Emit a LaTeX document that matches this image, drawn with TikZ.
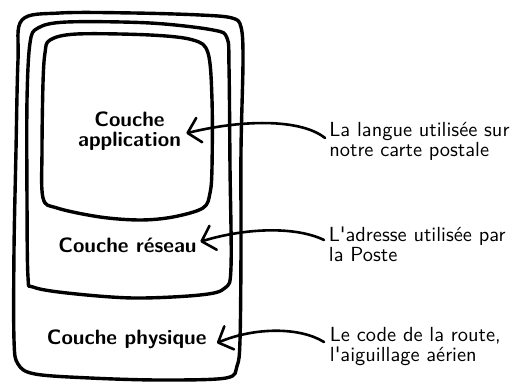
\documentclass[tikz,border=0pt]{standalone}
\usetikzlibrary{arrows.meta}
\begin{document}
\begin{tikzpicture}[x=0.5pt,y=-0.5pt,
  layerbox/.style={line width=1.7pt, line join=round},
  layerlabel/.style={inner sep=0pt, align=center, anchor=base, font=\sffamily\bfseries\fontsize{10.4}{10.3}\selectfont},
  note/.style={inner sep=0pt, align=left, anchor=base west, font=\sffamily\fontsize{10.2}{10}\selectfont},
  pointer/.style={line width=1.3pt, line cap=round, -{Straight Barb[length=6pt,width=12.5pt,round]}}]
\useasboundingbox (0,0) rectangle (512,383);
% outer contour
\draw[layerbox] plot[smooth cycle, tension=0.55] coordinates {
 (22,20) (60,13) (133,13) (200,15) (232,18) (241,27) (243,60) (241,150) (241,250) (240,340)
 (237,366) (226,378) (160,380) (90,378) (35,374) (18,364) (14,340) (14,250) (16,150) (18,60)};
% middle contour
\draw[layerbox] plot[smooth cycle, tension=0.55] coordinates {
 (38,28) (67,22) (150,23) (213,30) (227,38) (229,67) (230,167) (231,267) (225,288)
 (200,295) (133,298) (67,293) (33,287) (28,277) (27,200) (27,100) (30,43)};
% inner contour
\draw[layerbox] plot[smooth cycle, tension=0.55] coordinates {
 (50,40) (77,34) (150,35) (193,40) (208,53) (212,100) (212,167) (210,193) (203,208)
 (173,217) (140,220) (100,217) (57,208) (43,198) (42,150) (43,83) (45,53)};
% layer labels
\node[layerlabel] (app) at (129.5,146.7) {Couche\\application};
\node[layerlabel] (net) at (127.5,252.3) {Couche réseau};
\node[layerlabel] (phy) at (126.7,345) {Couche physique};
% notes
\node[note] (t1) at (329,156.7) {La langue utilisée sur\\notre carte postale};
\node[note] (t2) at (328.5,261.7) {L\textquotesingle adresse utilisée par\\la Poste};
\node[note] (t3) at (329.5,361.7) {Le code de la route,\\l\textquotesingle aiguillage aérien};
% arrow start points
\coordinate (s1) at (325,138);
\coordinate (s2) at (324,240);
\coordinate (s3) at (324,342);
\draw[pointer] (s1) .. controls (300,118) and (240,120) .. ([xshift=2.5pt,yshift=6.7pt]app.base east);
\draw[pointer] (s2) .. controls (295,226) and (245,228) .. ([xshift=1.7pt,yshift=5.3pt]net.base east);
\draw[pointer] (s3) .. controls (300,327) and (255,327) .. ([xshift=5pt,yshift=1pt]phy.base east);
\end{tikzpicture}
\end{document}
